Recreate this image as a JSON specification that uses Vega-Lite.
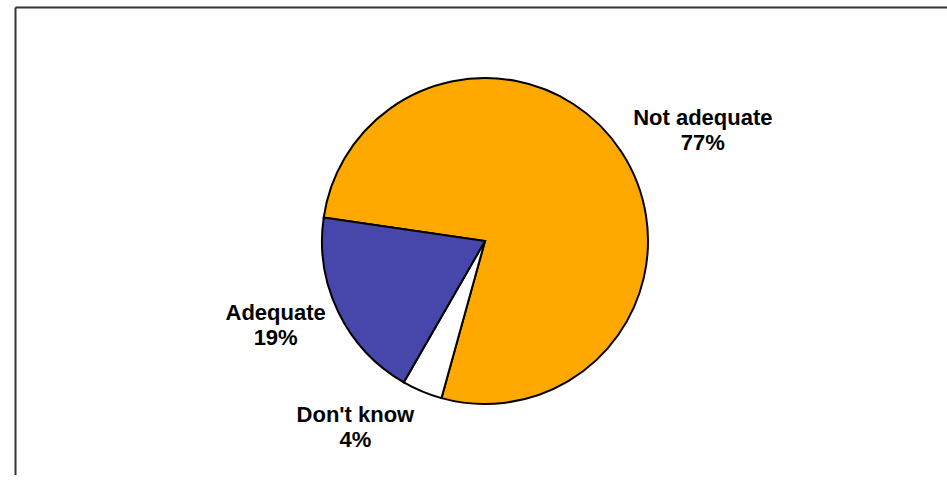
{
  "$schema": "https://vega.github.io/schema/vega-lite/v6.json",
  "width": 940,
  "height": 468,
  "autosize": {"type": "none"},
  "padding": {"left": 15, "top": 7, "right": 0, "bottom": 0},
  "background": "white",
  "config": {"view": {"stroke": null}},
  "data": {
    "values": [
      {"category": "Not adequate", "value": 77, "rank": 1, "label": "Not adequate\n77%"},
      {"category": "Don't know", "value": 4, "rank": 2, "label": "Don't know\n4%"},
      {"category": "Adequate", "value": 19, "rank": 3, "label": "Adequate\n19%"}
    ]
  },
  "layer": [
    {
      "mark": {"type": "point", "opacity": 0},
      "encoding": {
        "x": {"datum": 0, "type": "quantitative", "scale": {"domain": [0, 1]},
          "axis": {"orient": "top", "domainColor": "#333333", "domainWidth": 2, "ticks": false, "labels": false, "grid": false, "title": null}},
        "y": {"datum": 0, "type": "quantitative", "scale": {"domain": [0, 1]},
          "axis": {"orient": "left", "domainColor": "#333333", "domainWidth": 2, "ticks": false, "labels": false, "grid": false, "title": null}}
      }
    },
    {
      "mark": {"type": "arc", "radius": 163, "stroke": "black", "strokeWidth": 2},
      "encoding": {
        "theta": {"field": "value", "type": "quantitative", "stack": true, "scale": {"range": [4.857, 11.140]}},
        "order": {"field": "rank", "type": "quantitative"},
        "color": {"field": "category", "type": "nominal", "legend": null,
          "scale": {"domain": ["Not adequate", "Don't know", "Adequate"], "range": ["#FFA800", "#FFFFFF", "#4747AB"]}}
      }
    },
    {
      "mark": {"type": "text", "radius": 235, "dx": 21, "dy": 5, "lineBreak": "\n", "font": "Liberation Sans", "fontWeight": "bold", "fontSize": 22, "lineHeight": 25, "color": "black", "align": "center", "baseline": "middle"},
      "encoding": {
        "theta": {"field": "value", "type": "quantitative", "stack": true},
        "order": {"field": "rank", "type": "quantitative"},
        "detail": {"field": "category"},
        "text": {"condition": {"test": "datum.category === 'Not adequate'", "field": "label"}, "value": ""}
      }
    },
    {
      "mark": {"type": "text", "radius": 235, "dx": -39, "dy": -43, "lineBreak": "\n", "font": "Liberation Sans", "fontWeight": "bold", "fontSize": 22, "lineHeight": 25, "color": "black", "align": "center", "baseline": "middle"},
      "encoding": {
        "theta": {"field": "value", "type": "quantitative", "stack": true},
        "order": {"field": "rank", "type": "quantitative"},
        "detail": {"field": "category"},
        "text": {"condition": {"test": "datum.category === \"Don't know\"", "field": "label"}, "value": ""}
      }
    },
    {
      "mark": {"type": "text", "radius": 235, "dx": 2, "dy": -31, "lineBreak": "\n", "font": "Liberation Sans", "fontWeight": "bold", "fontSize": 22, "lineHeight": 25, "color": "black", "align": "center", "baseline": "middle"},
      "encoding": {
        "theta": {"field": "value", "type": "quantitative", "stack": true},
        "order": {"field": "rank", "type": "quantitative"},
        "detail": {"field": "category"},
        "text": {"condition": {"test": "datum.category === 'Adequate'", "field": "label"}, "value": ""}
      }
    }
  ]
}
